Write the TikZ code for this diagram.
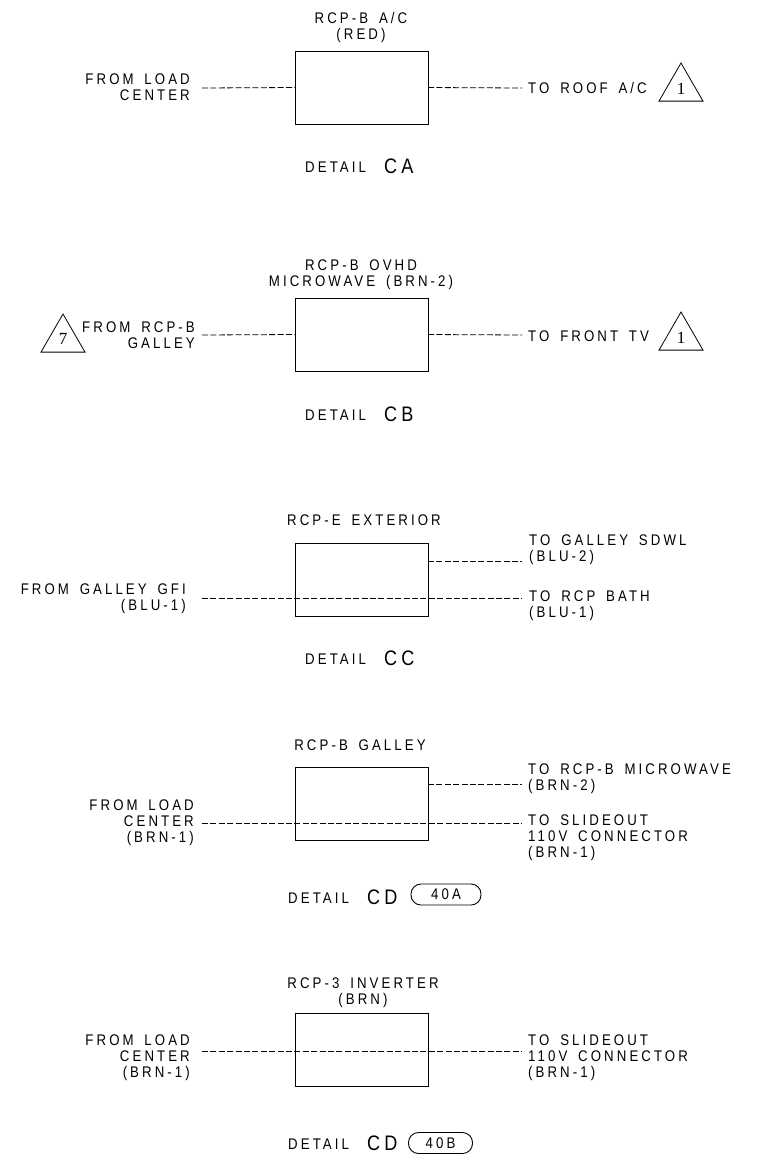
\documentclass[tikz,border=0pt]{standalone}
\usepackage{fontspec}
\setmainfont[FakeStretch=0.86,LetterSpace=20,WordSpace=1.6]{Liberation Sans}
\newfontfamily\numfont{Liberation Serif}
\usetikzlibrary{shapes.geometric}

\tikzset{
  panel/.style={draw,line width=1pt,minimum width=133pt,minimum height=73pt,inner sep=0pt,outer sep=0pt},
  wire/.style={line width=0.8pt,dash pattern=on 6pt off 2.4pt},
  lbl/.style={inner sep=0pt,font=\fontsize{15.4}{16}\selectfont},
  lblL/.style={lbl,anchor=east,align=right},
  lblR/.style={lbl,anchor=west,align=left},
  big/.style={inner sep=0pt,anchor=west,font=\fontsize{21}{21}\selectfont},
  flag/.style={draw,regular polygon,regular polygon sides=3,minimum size=50.8pt,inner sep=0pt,outer sep=0pt,line width=0.8pt,font=\numfont\fontsize{17}{17}\selectfont},
  pill/.style={draw,rounded corners=10pt,line width=0.9pt,minimum height=21pt,inner sep=0pt,font=\fontsize{15.4}{16}\selectfont}
}

\begin{document}
\begin{tikzpicture}[x=1pt,y=-1pt]
\useasboundingbox (0,0) rectangle (759,1163);

% detail CA
\node[panel] (boxca) at (361.5,87.5) {};
\node[lbl,align=center] (titleca) at (361,28) {RCP-B A/C\\(RED)};
\node[lblL] (fromca) at (190,87) {FROM LOAD\\CENTER};
\node[lblR] (toca) at (528,88) {TO ROOF A/C};
\node[flag] (flagca) at (681,88.4) {1};
\coordinate (wireLca) at (202,88);
\coordinate (wireRca) at (522,88);
\draw[wire] (wireLca) -- (boxca.west);
\draw[wire] (boxca.east) -- (wireRca);
\node[lbl,anchor=west] (detca) at (305,167) {DETAIL};
\node[big] (nameca) at (384,166) {CA};

% detail CB
\node[panel] (boxcb) at (361.5,334.5) {};
\node[lbl,align=center] (titlecb) at (361,275) {RCP-B OVHD\\MICROWAVE (BRN-2)};
\node[lblL] (fromcb) at (195,335.5) {FROM RCP-B\\GALLEY};
\node[lblR] (tocb) at (528,336) {TO FRONT TV};
\node[flag] (flagcbL) at (63,339.4) {7};
\node[flag] (flagcbR) at (681,337.4) {1};
\coordinate (wireLcb) at (202,335);
\coordinate (wireRcb) at (522,335);
\draw[wire] (wireLcb) -- (boxcb.west);
\draw[wire] (boxcb.east) -- (wireRcb);
\node[lbl,anchor=west] (detcb) at (305,415) {DETAIL};
\node[big] (namecb) at (384,414) {CB};

% detail CC
\node[panel] (boxcc) at (361.5,580) {};
\node[lbl] (titlecc) at (364,520) {RCP-E EXTERIOR};
\node[lblL] (fromcc) at (186,599) {FROM GALLEY GFI\\(BLU-1)};
\node[lblR] (tocc) at (529,550) {TO GALLEY SDWL\\(BLU-2)};
\node[lblR] (tobath) at (529,606) {TO RCP BATH\\(BLU-1)};
\coordinate (wireUcc) at (522,561);
\coordinate (wireLcc) at (202,598);
\coordinate (wireRcc) at (522,598);
\draw[wire] (boxcc.east |- wireUcc) -- (wireUcc);
\draw[wire] (wireLcc) -- (wireRcc);
\node[lbl,anchor=west] (detcc) at (305,659) {DETAIL};
\node[big] (namecc) at (384,658) {CC};

% detail CD 40A
\node[panel] (boxcd) at (361.5,803.5) {};
\node[lbl] (titlecd) at (360,745) {RCP-B GALLEY};
\node[lblL] (fromcd) at (194,823) {FROM LOAD\\CENTER\\(BRN-1)};
\node[lblR] (tocd) at (528,779) {TO RCP-B MICROWAVE\\(BRN-2)};
\node[lblR] (toslide) at (528,838) {TO SLIDEOUT\\110V CONNECTOR\\(BRN-1)};
\coordinate (wireUcd) at (522,784);
\coordinate (wireLcd) at (202,823);
\coordinate (wireRcd) at (522,823);
\draw[wire] (boxcd.east |- wireUcd) -- (wireUcd);
\draw[wire] (wireLcd) -- (wireRcd);
\node[lbl,anchor=west] (detcd) at (288,898) {DETAIL};
\node[big] (namecd) at (367,897) {CD};
\node[pill,minimum width=70pt] (pillcd) at (446,894.5) {40A};

% detail CD 40B
\node[panel] (boxce) at (361.5,1050) {};
\node[lbl,align=center] (titlece) at (363,993) {RCP-3 INVERTER\\(BRN)};
\node[lblL] (fromce) at (190,1058) {FROM LOAD\\CENTER\\(BRN-1)};
\node[lblR] (toce) at (528,1058) {TO SLIDEOUT\\110V CONNECTOR\\(BRN-1)};
\coordinate (wireLce) at (202,1051);
\coordinate (wireRce) at (522,1051);
\draw[wire] (wireLce) -- (wireRce);
\node[lbl,anchor=west] (detce) at (288,1144) {DETAIL};
\node[big] (namece) at (367,1143) {CD};
\node[pill,minimum width=64pt] (pillce) at (440.5,1143) {40B};

\end{tikzpicture}
\end{document}
